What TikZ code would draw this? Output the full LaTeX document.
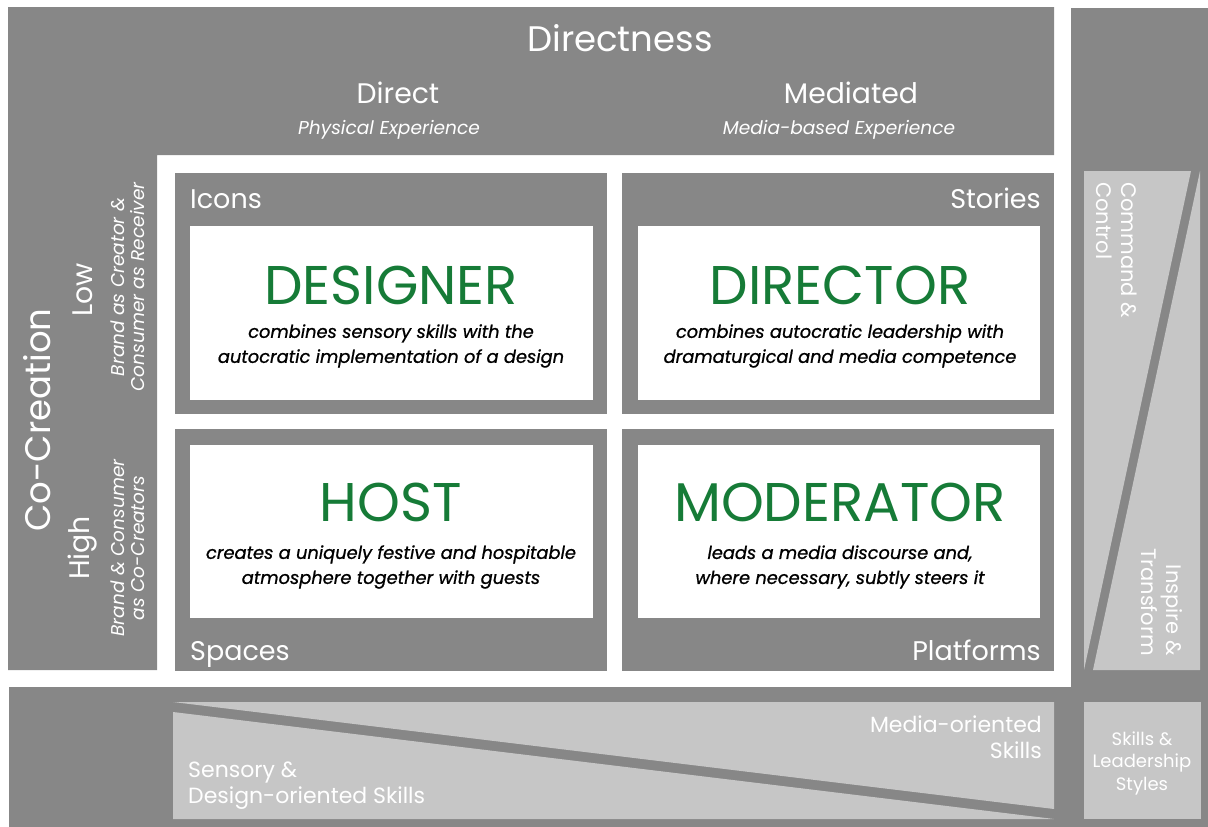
\documentclass[tikz,border=0pt]{standalone}
\usepackage{fontspec}
\setmainfont{Poppins}
\newfontfamily\descfont{Poppins}[FakeBold=0.9]
\definecolor{framegray}{RGB}{135,135,135}
\definecolor{panelgray}{RGB}{198,198,198}
\definecolor{rolegreen}{RGB}{22,123,55}
\tikzset{
  frame/.style={fill=framegray},
  panel/.style={fill=panelgray},
  txt/.style={text=white,inner sep=0pt},
  big/.style={txt,font=\fontsize{35.5}{40}\selectfont},
  mid/.style={txt,font=\fontsize{28.3}{32}\selectfont},
  sub/.style={txt,font=\fontsize{18.6}{20}\selectfont\itshape},
  corner/.style={txt,font=\fontsize{27}{30}\selectfont},
  role/.style={text=rolegreen,inner sep=0pt,font=\fontsize{54.5}{58}\selectfont},
  desc/.style={inner sep=0pt,align=center,font=\descfont\itshape\fontsize{17.8}{25}\selectfont},
  side/.style={txt,font=\fontsize{22}{26}\selectfont},
  small/.style={txt,align=center,font=\fontsize{18}{22.5}\selectfont}
}
\begin{document}
\begin{tikzpicture}[x=1pt,y=-1pt]
      \useasboundingbox (0,0) rectangle (1208,827);
      % frame
      \fill[frame] (8,7) -- (1054,7) -- (1054,155) -- (157,155) -- (157,670) -- (8,670) -- cycle;
      \fill[frame] (1071,8) rectangle (1208,827);
      \fill[frame] (9,687) rectangle (1071,827);
      % quadrants
      \fill[frame] (175,173) rectangle (607,414);
      \fill[frame] (622,173) rectangle (1054,414);
      \fill[frame] (175,429) rectangle (607,671);
      \fill[frame] (622,429) rectangle (1054,671);
      \fill[white] (190,226) rectangle (593,400);
      \fill[white] (638,226) rectangle (1040,400);
      \fill[white] (190,445) rectangle (593,618);
      \fill[white] (638,445) rectangle (1040,618);
      % split panels
      \fill[panel] (1084,171) -- (1191,171) -- (1084,670) -- cycle;
      \fill[panel] (1200,171) -- (1200,670) -- (1093,670) -- cycle;
      \fill[panel] (173,702) -- (1054,702) -- (1054,809) -- cycle;
      \fill[panel] (173,712) -- (1054,819) -- (173,819) -- cycle;
      \fill[panel] (1084,702) rectangle (1201,819);

      \node[big] (directness) at (620,38) {Directness};
      \node[mid] (direct) at (398,93) {Direct};
      \node[sub] (physical) at (389,130) {Physical Experience};
      \node[mid] (mediated) at (851,93) {Mediated};
      \node[sub] (mediabased) at (839,130) {Media-based Experience};

      \node[big,rotate=90] (cocreation) at (37,420) {Co-Creation};
      \node[mid,rotate=90] (low) at (83,290) {Low};
      \node[mid,rotate=90] (high) at (83,548) {High};
      \node[sub,rotate=90,align=center,font=\fontsize{18.5}{20}\selectfont\itshape] (lowdesc) at (128,287) {Brand as Creator \&\\Consumer as Receiver};
      \node[sub,rotate=90,align=center,font=\fontsize{18.5}{20}\selectfont\itshape] (highdesc) at (128,548) {Brand \& Consumer\\as Co-Creators};

      \node[corner,anchor=base west] (icons) at (190,208) {Icons};
      \node[corner,anchor=base east] (stories) at (1041,208) {Stories};
      \node[corner,anchor=base west] (spaces) at (190,660) {Spaces};
      \node[corner,anchor=base east] (platforms) at (1041,660) {Platforms};

      \node[role] (designer) at (391,285) {DESIGNER};
      \node[role] (director) at (840,285) {DIRECTOR};
      \node[role] (host) at (391,502) {HOST};
      \node[role] (moderator) at (840,502) {MODERATOR};
      \node[desc] (designerdesc) at (391,346) {combines sensory skills with the\\autocratic implementation of a design};
      \node[desc] (directordesc) at (840,346) {combines autocratic leadership with\\dramaturgical and media competence};
      \node[desc] (hostdesc) at (391,567) {creates a uniquely festive and hospitable\\atmosphere together with guests};
      \node[desc] (moderatordesc) at (840,567) {leads a media discourse and,\\where necessary, subtly steers it};

      \node[side,rotate=-90,anchor=west,align=left,font=\fontsize{21}{25}\selectfont] (command) at (1117,182) {Command \&\\Control};
      \node[side,rotate=-90,anchor=east,align=right,font=\fontsize{21}{25}\selectfont] (inspire) at (1162,656) {Inspire \&\\Transform};
      \node[side,anchor=east,align=right] (mediaskills) at (1042,737) {Media-oriented\\Skills};
      \node[side,anchor=west,align=left] (sensory) at (188,786) {Sensory \&\\Design-oriented Skills};
      \node[small] (leadership) at (1142,763) {Skills \&\\Leadership\\Styles};
    \end{tikzpicture}
\end{document}
